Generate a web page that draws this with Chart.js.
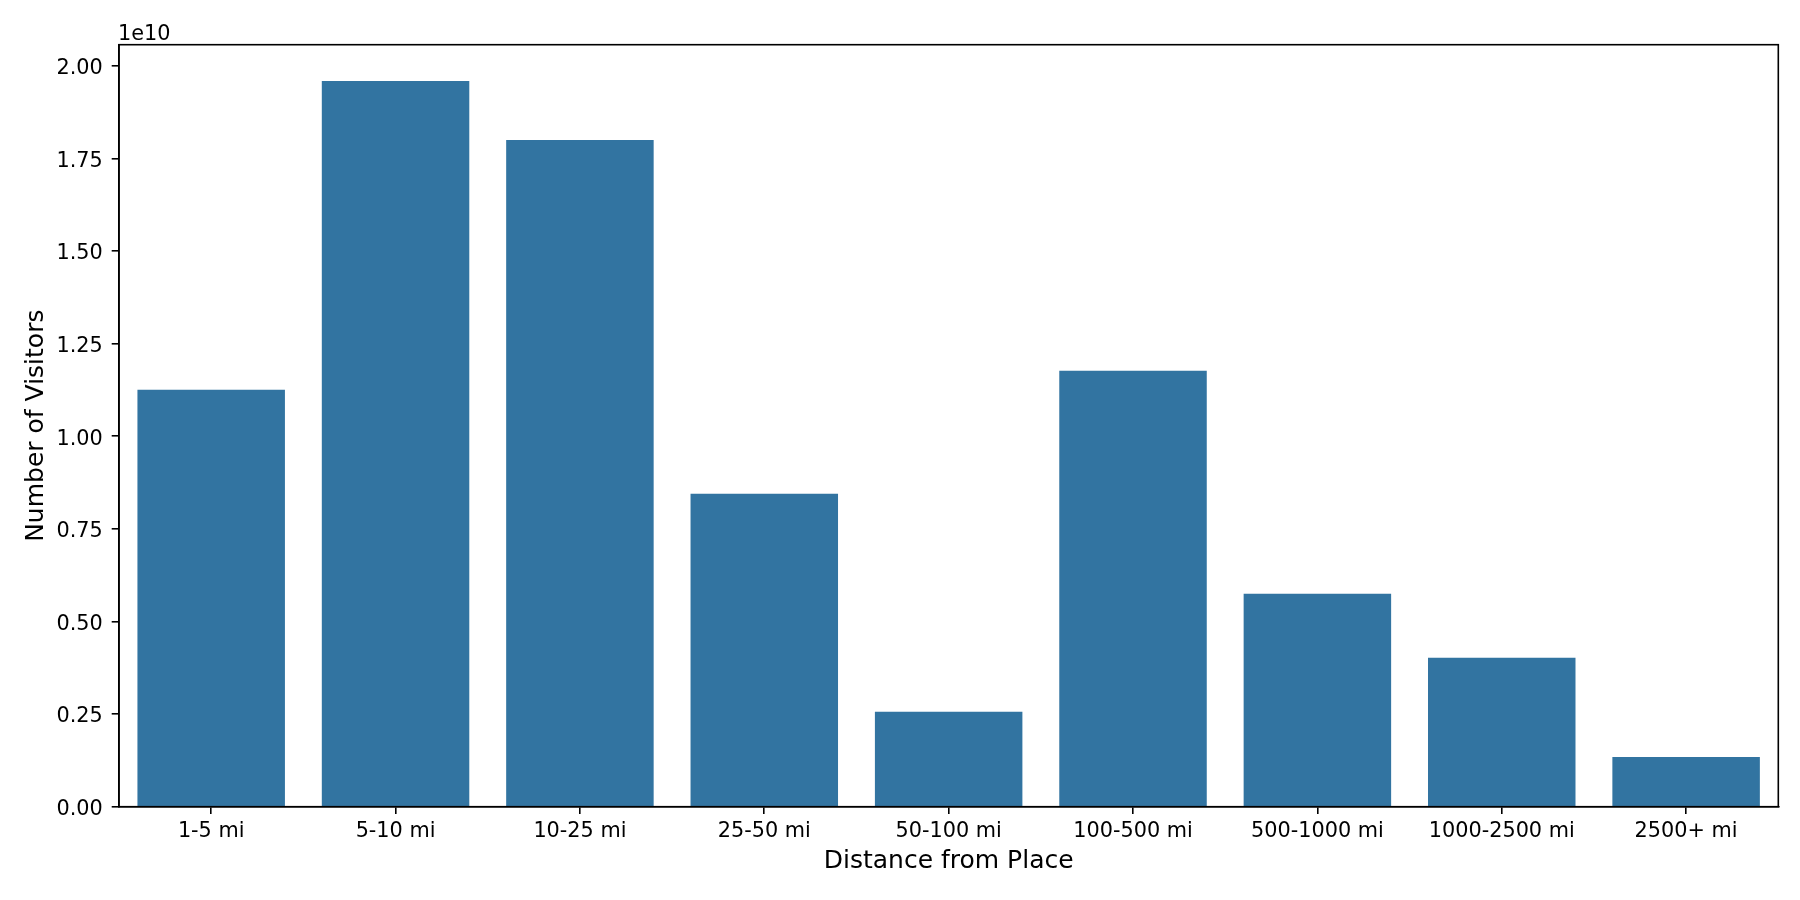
<!DOCTYPE html>
<html>
<head>
<meta charset="utf-8">
<script src="https://cdn.jsdelivr.net/npm/chart.js@4"></script>
<style>
html,body{margin:0;padding:0;background:#fff;}
#wrap{width:1800px;height:900px;}
</style>
</head>
<body>
<div id="wrap"><canvas id="c" width="1800" height="900"></canvas></div>
<script>
const categories = ["1-5 mi","5-10 mi","10-25 mi","25-50 mi","50-100 mi","100-500 mi","500-1000 mi","1000-2500 mi","2500+ mi"];
const visitors = [1.1256e10, 1.959e10, 1.800e10, 0.845e10, 0.256e10, 1.177e10, 0.575e10, 0.402e10, 0.134e10];
const yTicks = [0, 0.25e10, 0.5e10, 0.75e10, 1.0e10, 1.25e10, 1.5e10, 1.75e10, 2.0e10];
const yMax = 2.057e10;
const offsetText = "1e10";
const xTitle = "Distance from Place";
const yTitle = "Number of Visitors";

const FONT = "DejaVu Sans";
const TICK_PX = 20.8;
const LABEL_PX = 25;

const framePlugin = {
  id: 'frame',
  afterDraw(chart) {
    const {ctx, chartArea: a} = chart;
    ctx.save();
    ctx.strokeStyle = '#000';
    ctx.lineWidth = 1.6;
    ctx.strokeRect(a.left, a.top, a.right - a.left, a.bottom - a.top);
    ctx.fillStyle = '#000';
    ctx.font = TICK_PX + 'px "' + FONT + '"';
    ctx.textAlign = 'left';
    ctx.textBaseline = 'alphabetic';
    ctx.fillText(offsetText, a.left - 1, 39.5);
    ctx.restore();
  }
};

new Chart(document.getElementById('c'), {
  type: 'bar',
  data: {
    labels: categories,
    datasets: [{
      data: visitors,
      backgroundColor: '#3274a1',
      borderWidth: 0,
      categoryPercentage: 0.8,
      barPercentage: 1.0
    }]
  },
  options: {
    responsive: false,
    devicePixelRatio: 1,
    animation: false,
    layout: { padding: { left: 0, top: 44.7, right: 21.7, bottom: 0 } },
    plugins: { legend: { display: false }, tooltip: { enabled: false } },
    scales: {
      x: {
        grid: { display: true, drawOnChartArea: false, offset: false, tickLength: 7.3, color: '#000', lineWidth: 1.6 },
        border: { display: true, color: '#000', width: 1.6 },
        ticks: { color: '#000', font: { family: FONT, size: TICK_PX }, padding: 5, maxRotation: 0, autoSkip: false },
        title: { display: true, text: xTitle, color: '#000', font: { family: FONT, size: LABEL_PX }, padding: { top: 0, bottom: 24 } },
        afterFit(s) { s.height = 93.3; }
      },
      y: {
        min: 0,
        max: yMax,
        grid: { display: true, drawOnChartArea: false, tickLength: 7.3, color: '#000', lineWidth: 1.6 },
        border: { display: true, color: '#000', width: 1.6 },
        ticks: { color: '#000', font: { family: FONT, size: TICK_PX }, padding: 9, labelOffset: 3, callback: v => (v / 1e10).toFixed(2) },
        afterBuildTicks(s) { s.ticks = yTicks.map(v => ({ value: v })); },
        title: { display: true, text: yTitle, color: '#000', font: { family: FONT, size: LABEL_PX }, padding: { top: 21, bottom: 0 } },
        afterFit(s) { s.width = 119; }
      }
    }
  },
  plugins: [framePlugin]
});
</script>
</body>
</html>
